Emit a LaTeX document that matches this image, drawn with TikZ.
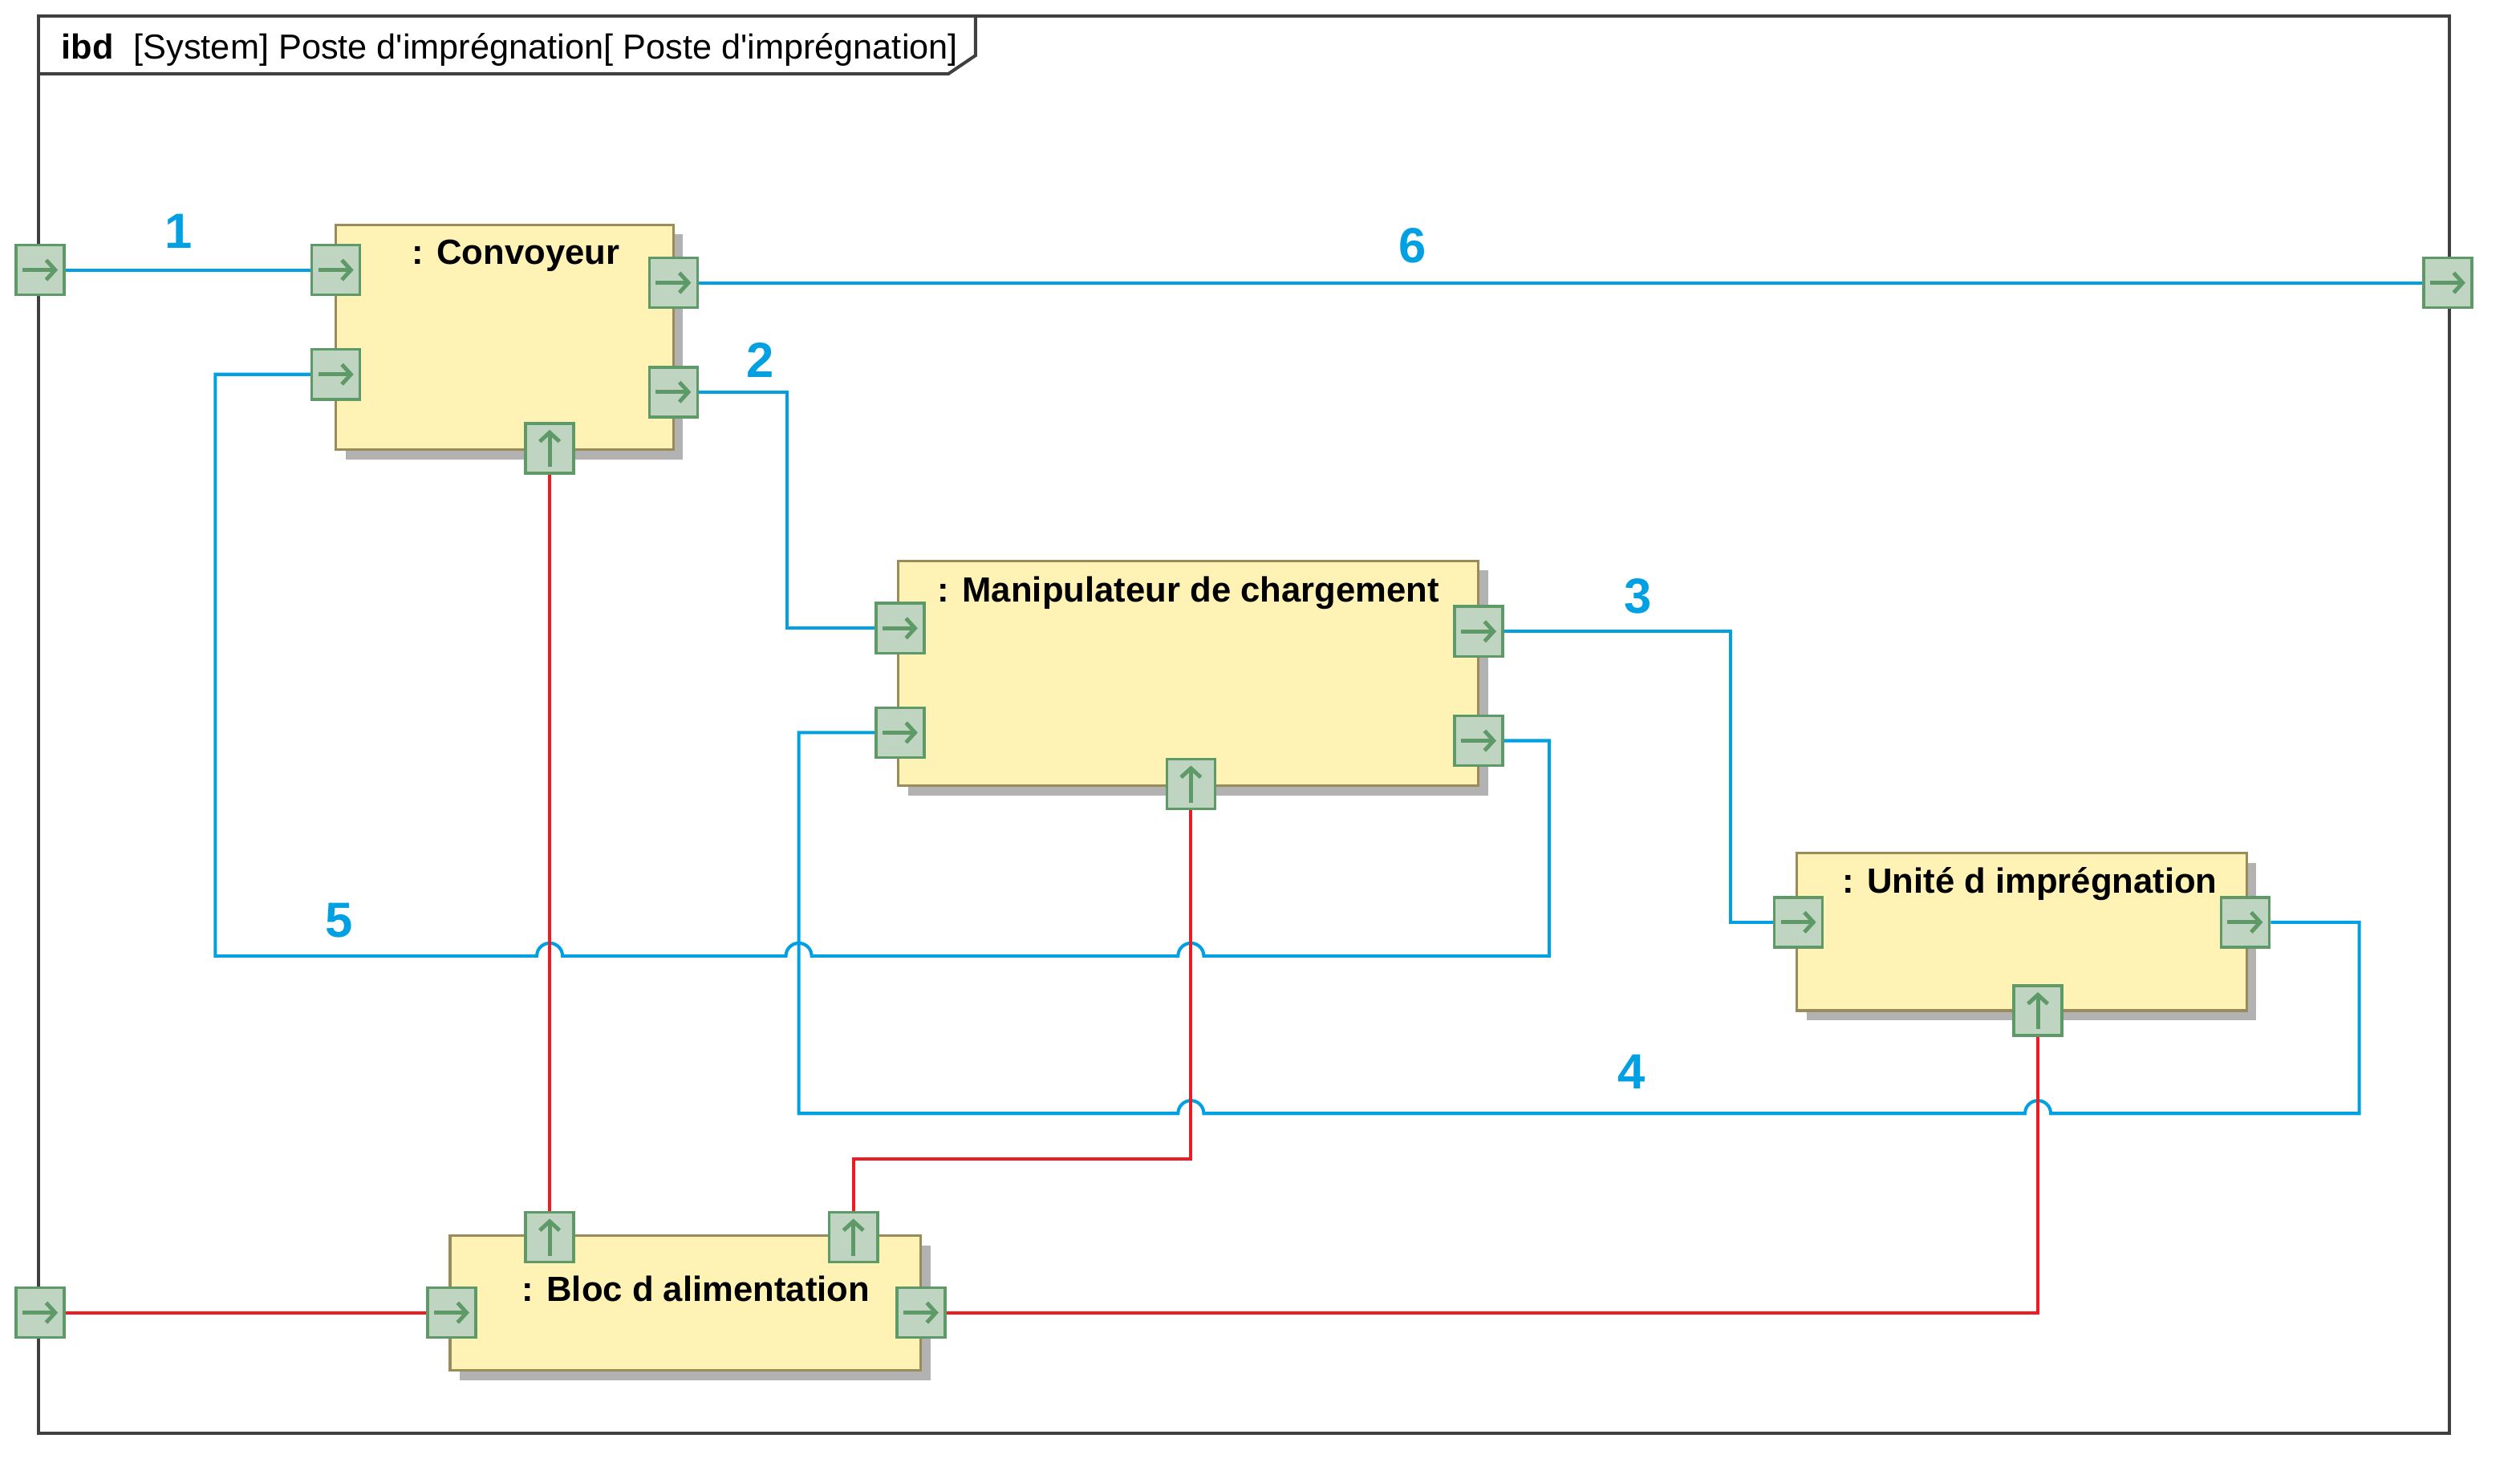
\documentclass[tikz,border=0pt]{standalone}
\usepackage{fontspec}
\setmainfont{Liberation Sans}[Ligatures=TeXOff]
\usepackage{tikz}
\usetikzlibrary{shadows,arrows,arrows.meta}

\definecolor{sigblue}{RGB}{0,160,227}
\definecolor{powred}{RGB}{237,28,36}
\definecolor{blockfill}{RGB}{255,242,181}
\definecolor{blockline}{RGB}{153,140,90}
\definecolor{portfill}{RGB}{191,212,193}
\definecolor{portline}{RGB}{94,153,104}
\definecolor{shadowgray}{RGB}{178,178,178}
\definecolor{framegray}{RGB}{64,64,64}

\tikzset{
  blockbox/.style={draw=blockline, fill=blockfill, line width=0.9pt, inner sep=0pt,
    drop shadow={shadow xshift=0.12cm, shadow yshift=-0.12cm, fill=shadowgray, opacity=1}},
  blocktitle/.style={font=\bfseries\fontsize{12.4}{15}\selectfont, inner sep=0pt},
  port/.style={draw=portline, fill=portfill, line width=1pt, inner sep=0pt,
    minimum width=0.6cm, minimum height=0.62cm},
  portarrow/.style={draw=portline, line width=1.4pt, -{Straight Barb[length=3.2pt,width=7pt]}},
  portr/.style={port, path picture={
    \draw[portarrow] ([xshift=0.08cm]path picture bounding box.west)
      -- ([xshift=-0.08cm]path picture bounding box.east);}},
  portu/.style={port, path picture={
    \draw[portarrow] ([yshift=0.08cm]path picture bounding box.south)
      -- ([yshift=-0.08cm]path picture bounding box.north);}},
  sig/.style={draw=sigblue, line width=1.15pt},
  power/.style={draw=powred, line width=1.15pt},
  numlabel/.style={text=sigblue, font=\bfseries\fontsize{17.5}{20}\selectfont, inner sep=0pt},
}

\begin{document}
\begin{tikzpicture}[x=0.02cm, y=-0.02cm]
\useasboundingbox (0,0) rectangle (1568,923);

% frame and tab
\draw[framegray, line width=1.15pt] (24,10) rectangle (1524,892);
\draw[framegray, line width=1.15pt] (24,46) -- (590,46) -- (607,34.5) -- (607,10);
\node[anchor=base west, inner sep=0pt, font=\fontsize{12.3}{15}\selectfont] (title) at (38,36.5)
  {\textbf{ibd}\hspace{0.3em} [System] Poste d'imprégnation[ Poste d'imprégnation]};

% blocks
\node[blockbox, minimum width=4.2cm, minimum height=2.8cm] (conv) at (314,210) {};
\node[blockbox, minimum width=7.22cm, minimum height=2.8cm] (manip) at (739.5,419) {};
\node[blockbox, minimum width=5.6cm, minimum height=1.96cm] (unite) at (1258,580) {};
\node[blockbox, minimum width=5.86cm, minimum height=1.68cm] (bloc) at (426.5,811) {};

\node[blocktitle] (convt) at (321,159) {: Convoyeur};
\node[blocktitle] (manipt) at (739.5,369) {: Manipulateur de chargement};
\node[blocktitle] (unitet) at (1263,550) {: Unité d imprégnation};
\node[blocktitle] (bloct) at (433,802) {: Bloc d alimentation};

% ports
\node[portr] (pin1) at (25,168) {};
\node[portr] (pout6) at (1523,176) {};
\node[portr] (pinalim) at (25,817) {};

\node[portr] (cin1) at (209,168) {};
\node[portr] (cin2) at (209,233) {};
\node[portr] (cout1) at (419,176) {};
\node[portr] (cout2) at (419,244) {};
\node[portu] (cpow) at (342,279) {};

\node[portr] (min1) at (560,391) {};
\node[portr] (min2) at (560,456) {};
\node[portr] (mout1) at (920,393) {};
\node[portr] (mout2) at (920,461) {};
\node[portu] (mpow) at (741,488) {};

\node[portr] (uin) at (1119,574) {};
\node[portr] (uout) at (1397,574) {};
\node[portu] (upow) at (1268,629) {};

\node[portr] (bin) at (281,817) {};
\node[portr] (bout) at (573,817) {};
\node[portu] (bpow1) at (342,770) {};
\node[portu] (bpow2) at (531,770) {};

% signal flows
\draw[sig] (pin1.east) -- (cin1.west);
\draw[sig] (cout1.east) -- (pout6.west);
\draw[sig] (cout2.east) -- ++(55,0) |- (min1.west);
\draw[sig] (mout1.east) -- ++(141,0) |- (uin.west);
\draw[sig] (uout.east) -| (1468,693) -- (1276,693)
  arc[start angle=0, end angle=180, radius=0.16cm] -- (749,693)
  arc[start angle=0, end angle=180, radius=0.16cm] -- (497,693) |- (min2.west);
\draw[sig] (mout2.east) -| (964,595) -- (749,595)
  arc[start angle=0, end angle=180, radius=0.16cm] -- (505,595)
  arc[start angle=0, end angle=180, radius=0.16cm] -- (350,595)
  arc[start angle=0, end angle=180, radius=0.16cm] -- (134,595) |- (cin2.west);

% power
\draw[power] (pinalim.east) -- (bin.west);
\draw[power] (cpow.south) -- (bpow1.north);
\draw[power] (mpow.south) -- ++(0,217) -| (bpow2.north);
\draw[power] (bout.east) -| (upow.south);

% ports again on top of the lines
\foreach \p in {pin1,pout6,pinalim,cin1,cin2,cout1,cout2,min1,min2,mout1,mout2,uin,uout,bin,bout}
  \node[portr] at (\p) {};
\foreach \p in {cpow,mpow,upow,bpow1,bpow2}
  \node[portu] at (\p) {};

% flow numbers
\node[numlabel] (n1) at (111,144) {1};
\node[numlabel] (n2) at (473,224) {2};
\node[numlabel] (n3) at (1019,371) {3};
\node[numlabel] (n4) at (1015,667) {4};
\node[numlabel] (n5) at (211,573) {5};
\node[numlabel] (n6) at (879,153) {6};
\end{tikzpicture}
\end{document}
